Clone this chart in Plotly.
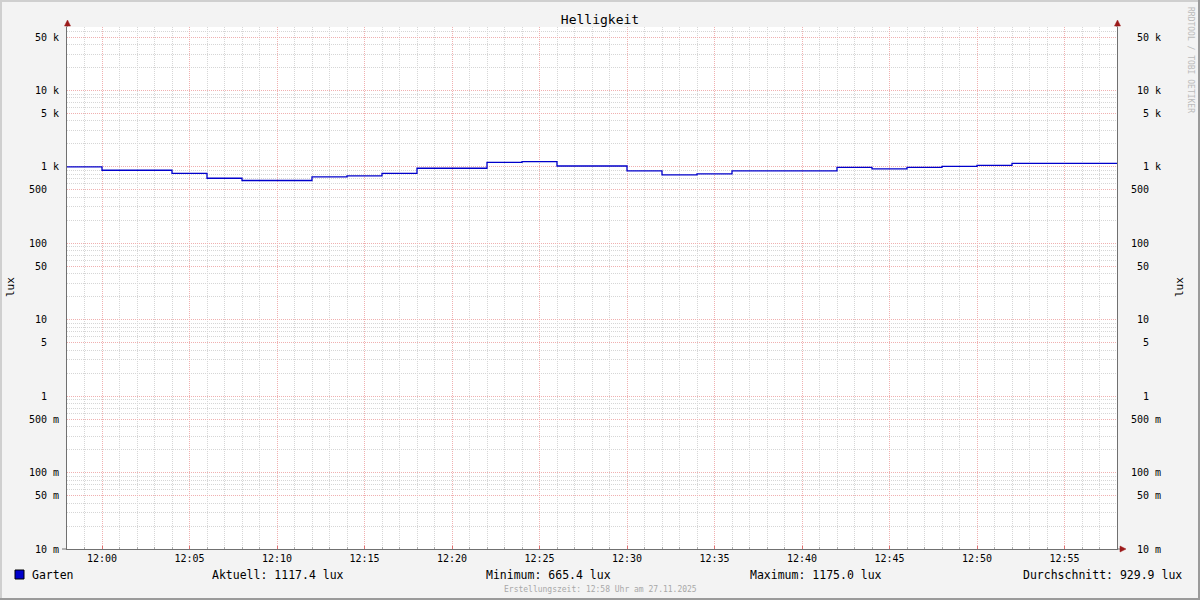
import plotly.graph_objects as go

# ---------------- data ----------------
times = [
    "2025-11-27 11:58", "2025-11-27 12:00", "2025-11-27 12:02", "2025-11-27 12:04",
    "2025-11-27 12:06", "2025-11-27 12:08", "2025-11-27 12:10", "2025-11-27 12:12",
    "2025-11-27 12:14", "2025-11-27 12:16", "2025-11-27 12:18", "2025-11-27 12:20",
    "2025-11-27 12:22", "2025-11-27 12:24", "2025-11-27 12:26", "2025-11-27 12:28",
    "2025-11-27 12:30", "2025-11-27 12:32", "2025-11-27 12:34", "2025-11-27 12:36",
    "2025-11-27 12:38", "2025-11-27 12:40", "2025-11-27 12:42", "2025-11-27 12:44",
    "2025-11-27 12:46", "2025-11-27 12:48", "2025-11-27 12:50", "2025-11-27 12:52",
    "2025-11-27 12:54", "2025-11-27 12:56", "2025-11-27 12:58",
]
lux = [
    1000, 906, 906, 827, 712, 665, 665, 740, 763, 827, 962, 962,
    1152, 1175, 1030, 1030, 887, 786, 810, 887, 887, 887, 990, 942,
    990, 1021, 1052, 1117, 1117, 1117, 1117.4,
]
x_range = ["2025-11-27 11:58", "2025-11-27 12:58"]

tick_vals = [0.01, 0.05, 0.1, 0.5, 1, 5, 10, 50, 100, 500, 1000, 5000, 10000, 50000]
tick_num = ["10", "50", "100", "500", "1", "5", "10", "50", "100", "500", "1", "5", "10", "50"]
tick_unit = ["m", "m", "m", "m", "", "", "", "", "", "", "k", "k", "k", "k"]
minor_vals = [m * 10 ** e for e in range(-2, 5) for m in (2, 3, 4, 6, 7, 8, 9)]

title_text = "Helligkeit"
series_name = "Garten"
stat_labels = ["Aktuell: 1117.4 lux", "Minimum: 665.4 lux", "Maximum: 1175.0 lux",
               "Durchschnitt: 929.9 lux"]
footer_text = "Erstellungszeit: 12:58 Uhr am 27.11.2025"
credit_text = "RRDTOOL / TOBI OETIKER"
unit_label = "lux"

# ---------------- styling helpers ----------------
SP = "\u00a0"
tick_text = [n.rjust(3, SP) + SP + (u if u else SP) for n, u in zip(tick_num, tick_unit)]

FONT = "DejaVu Sans Mono"
L, R, T, B = 67, 83, 27, 51
W, H = 1200, 600
PW, PH = W - L - R, H - T - B


def px(x):
    return (x - L) / PW


def py(y):
    return (H - B - y) / PH


LOG_MIN, LOG_MAX = -2, 4.832
RED_GRID = "#F0B0B0"
GRAY_GRID = "#D6D6D6"
DOTS = "1px,1px"
AXIS_COL = "#707070"
ARROW_COL = "#9c1a1a"
LINE_COL = "#0000CC"

fig = go.Figure()
fig.add_trace(go.Scatter(x=times, y=lux, mode="lines", line=dict(color=LINE_COL, width=1.3, shape="hv"),
                         name=series_name, hoverinfo="skip", showlegend=False))
fig.add_trace(go.Scatter(x=times, y=lux, mode="lines", line=dict(color="rgba(0,0,0,0)", width=0, shape="hv"),
                         yaxis="y2", hoverinfo="skip", showlegend=False))

yaxis_common = dict(
    type="log", range=[LOG_MIN, LOG_MAX], tickmode="array", tickvals=tick_vals, ticktext=tick_text,
    tickfont=dict(family=FONT, size=10, color="#000000"), ticks="", showline=True, linecolor=AXIS_COL,
    linewidth=1, zeroline=False, fixedrange=True,
)

fig.update_layout(
    width=W, height=H, autosize=False,
    margin=dict(l=L, r=R, t=T, b=B, pad=0),
    paper_bgcolor="#F3F3F3", plot_bgcolor="#FFFFFF",
    showlegend=False, hovermode=False,
    title=dict(text=title_text, x=0.5, xref="container", xanchor="center", y=1 - 19 / H,
               yref="container", yanchor="middle", font=dict(family=FONT, size=13, color="#000")),
    xaxis=dict(
        type="date", range=x_range, tickformat="%H:%M", tick0="2025-11-27 12:00", dtick=300000,
        tickfont=dict(family=FONT, size=10, color="#000"),
        showgrid=True, gridcolor=RED_GRID, griddash=DOTS, gridwidth=1,
        ticks="inside", ticklen=3, tickcolor="#E07070",
        showline=True, linecolor=AXIS_COL, linewidth=1, zeroline=False, fixedrange=True,
        minor=dict(dtick=60000, tick0="2025-11-27 12:00", showgrid=True, gridcolor=GRAY_GRID,
                   griddash=DOTS, gridwidth=1, ticks="inside", ticklen=2, tickcolor="#AAAAAA"),
    ),
    yaxis=dict(
        **yaxis_common, side="left", ticklabelstandoff=5,
        showgrid=True, gridcolor=RED_GRID, griddash=DOTS, gridwidth=1,
        minor=dict(tickmode="array", tickvals=minor_vals, showgrid=True, gridcolor=GRAY_GRID,
                   griddash=DOTS, gridwidth=1),
    ),
    yaxis2=dict(
        **yaxis_common, side="right", overlaying="y", ticklabelstandoff=11, showgrid=False,
    ),
)

shapes = []
# axis extensions and arrows
shapes.append(dict(type="line", xref="paper", yref="paper", x0=0, x1=0, y0=1, y1=py(22),
                   line=dict(color=AXIS_COL, width=1)))
shapes.append(dict(type="line", xref="paper", yref="paper", x0=1, x1=1, y0=1, y1=py(22),
                   line=dict(color=AXIS_COL, width=1)))
shapes.append(dict(type="line", xref="paper", yref="paper", x0=1, x1=px(1121), y0=0, y1=0,
                   line=dict(color=AXIS_COL, width=1)))
shapes.append(dict(type="line", xref="paper", yref="paper", x0=px(62), x1=0, y0=0, y1=0,
                   line=dict(color=AXIS_COL, width=1)))
for ax in (67.5, 1117.5):
    shapes.append(dict(type="path", xref="paper", yref="paper", fillcolor=ARROW_COL,
                       line=dict(color=ARROW_COL, width=0.5),
                       path=f"M {px(ax - 3)},{py(26)} L {px(ax + 3)},{py(26)} L {px(ax)},{py(20)} Z"))
shapes.append(dict(type="path", xref="paper", yref="paper", fillcolor=ARROW_COL,
                   line=dict(color=ARROW_COL, width=0.5),
                   path=f"M {px(1120)},{py(546)} L {px(1120)},{py(552)} L {px(1126)},{py(549)} Z"))
# legend colour box
shapes.append(dict(type="rect", xref="paper", yref="paper", x0=px(15), x1=px(24), y0=py(570), y1=py(579),
                   fillcolor=LINE_COL, line=dict(color="#000", width=1)))
# outer border
shapes.append(dict(type="rect", xref="paper", yref="paper", x0=px(0), x1=px(1200), y0=py(0), y1=py(2),
                   fillcolor="#CFCFCF", line=dict(width=0)))
shapes.append(dict(type="rect", xref="paper", yref="paper", x0=px(0), x1=px(2), y0=py(0), y1=py(600),
                   fillcolor="#CFCFCF", line=dict(width=0)))
shapes.append(dict(type="rect", xref="paper", yref="paper", x0=px(1198), x1=px(1200), y0=py(0), y1=py(600),
                   fillcolor="#9A9A9A", line=dict(width=0)))
shapes.append(dict(type="rect", xref="paper", yref="paper", x0=px(0), x1=px(1200), y0=py(598), y1=py(600),
                   fillcolor="#9A9A9A", line=dict(width=0)))
fig.update_layout(shapes=shapes)

ann = []
lf = dict(family=FONT, size=11.5, color="#000")
ann.append(dict(text=series_name, x=px(30), y=py(575), xanchor="left", font=lf))
ann.append(dict(text=stat_labels[0], x=px(278), y=py(575), xanchor="center", font=lf))
ann.append(dict(text=stat_labels[1], x=px(548), y=py(575), xanchor="center", font=lf))
ann.append(dict(text=stat_labels[2], x=px(816), y=py(575), xanchor="center", font=lf))
ann.append(dict(text=stat_labels[3], x=px(1184), y=py(575), xanchor="right", font=lf))
ann.append(dict(text=footer_text, x=px(600), y=py(589), xanchor="center",
                font=dict(family=FONT, size=8, color="#A8A8A8")))
ann.append(dict(text=credit_text, x=px(1190), y=py(60), xanchor="center", textangle=90,
                font=dict(family=FONT, size=8, color="#BBBBBB")))
ann.append(dict(text=unit_label, x=px(10), y=py(287), xanchor="center", textangle=-90,
                font=dict(family=FONT, size=11, color="#000")))
ann.append(dict(text=unit_label, x=px(1179), y=py(287), xanchor="center", textangle=-90,
                font=dict(family=FONT, size=11, color="#000")))
for a in ann:
    a.update(xref="paper", yref="paper", yanchor="middle", showarrow=False)
fig.update_layout(annotations=ann)

fig.write_html("out.html", config={"displayModeBar": False},
               post_script="document.body.style.margin='0';document.body.style.overflow='hidden';")
